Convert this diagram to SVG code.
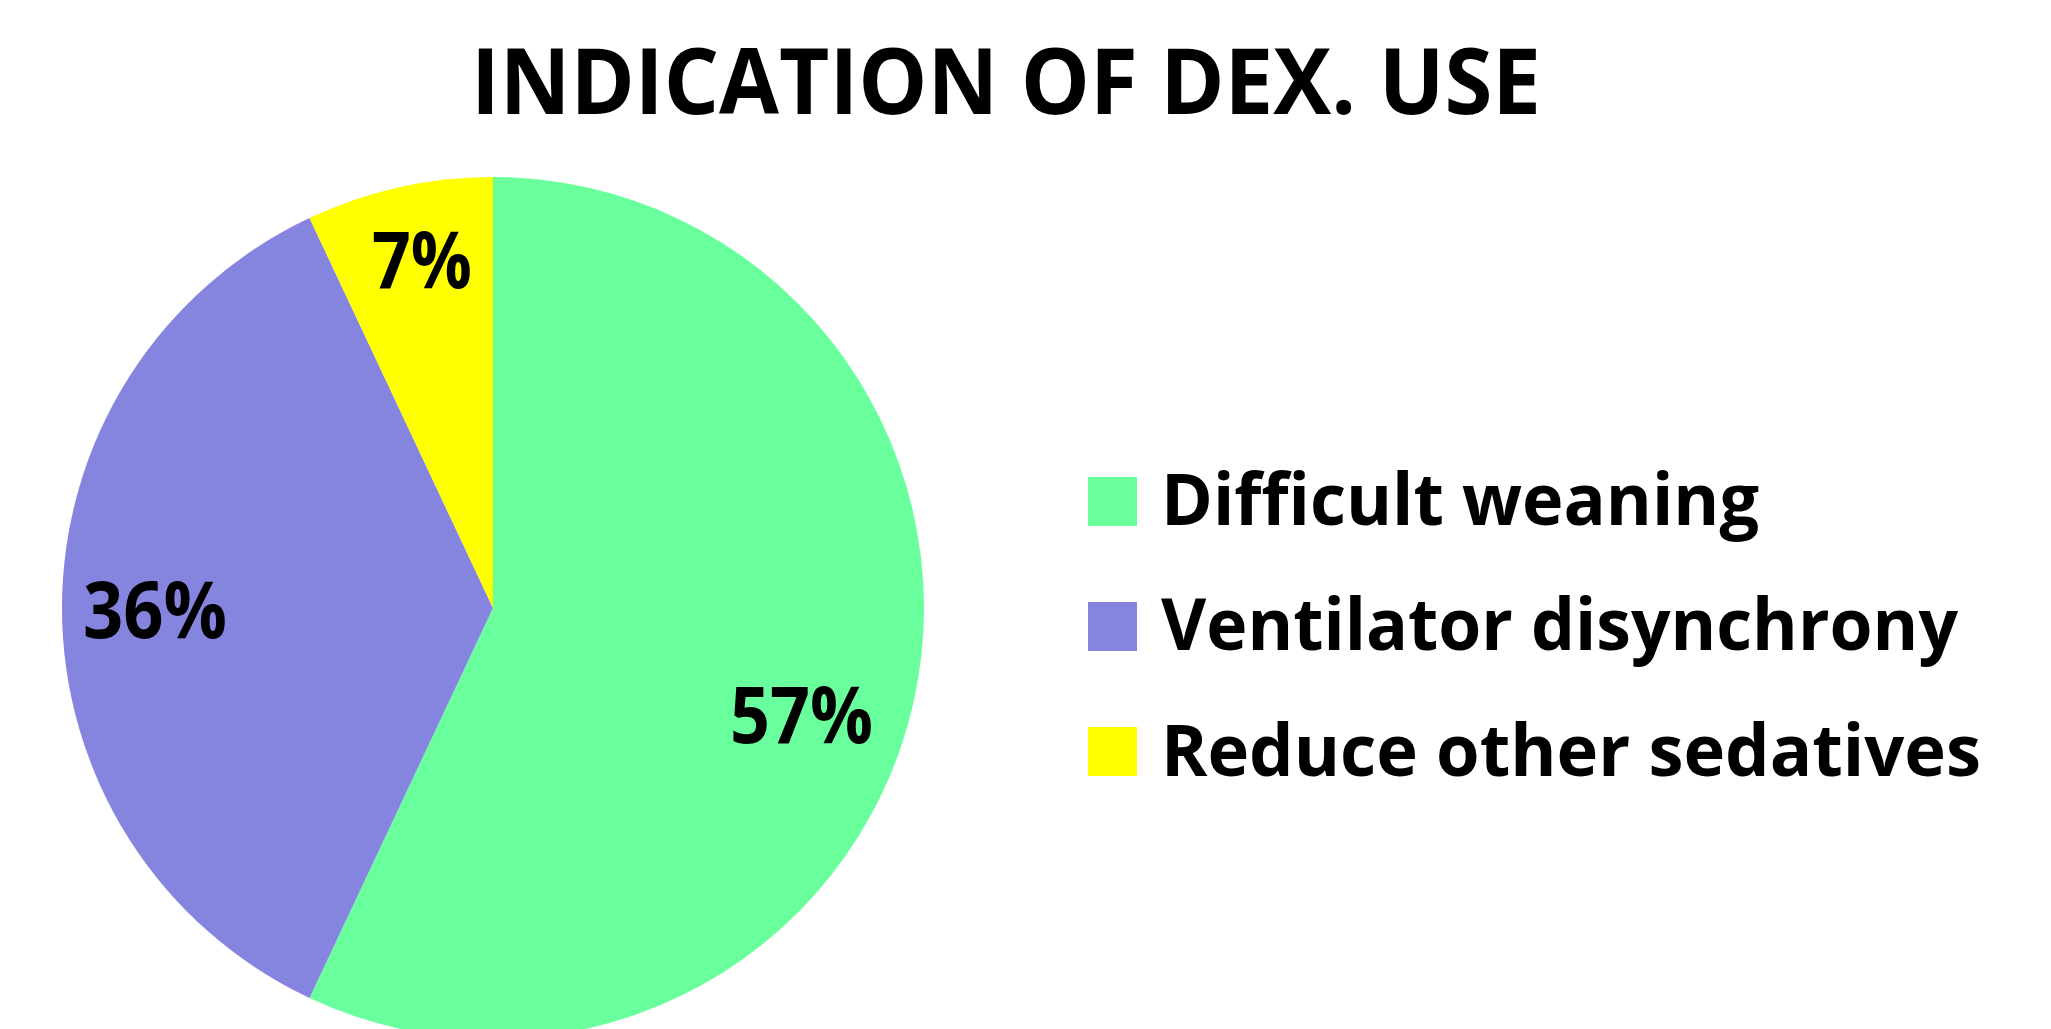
<svg xmlns="http://www.w3.org/2000/svg" width="2051" height="1029" viewBox="0 0 2051 1029">
  <style>
    text { font-family: "Open Sans", "Liberation Sans", sans-serif; font-weight: 700; fill: #000; }
    .title { font-size: 92px; }
    .pct { font-size: 78px; }
    .leg { font-size: 72px; }
    .green { fill: #68FF9C; }
    .purple { fill: #8585E0; }
    .yellow { fill: #FFFF00; }
  </style>
  <rect width="2051" height="1029" fill="#FFFFFF"/>

  <text id="title" class="title" x="471" y="114" textLength="1070" lengthAdjust="spacingAndGlyphs">INDICATION OF DEX. USE</text>

  <!-- pie: centre (493,608), radius 431, slices clockwise from 12 o'clock -->
  <g id="slice-difficult-weaning">
    <path class="green" d="M493,608 L493,177 A431,431 0 1 1 309.5,998 Z"/>
    <text class="pct" x="730" y="743" textLength="143" lengthAdjust="spacingAndGlyphs">57%</text>
  </g>
  <g id="slice-ventilator-disynchrony">
    <path class="purple" d="M493,608 L309.5,998 A431,431 0 0 1 309.5,218 Z"/>
    <text class="pct" x="83" y="638" textLength="144" lengthAdjust="spacingAndGlyphs">36%</text>
  </g>
  <g id="slice-reduce-sedatives">
    <path class="yellow" d="M493,608 L309.5,218 A431,431 0 0 1 493,177 Z"/>
    <text class="pct" x="372" y="288" textLength="100" lengthAdjust="spacingAndGlyphs">7%</text>
  </g>

  <!-- legend -->
  <g id="legend-difficult-weaning">
    <rect class="green" x="1088" y="477" width="49" height="49"/>
    <text class="leg" x="1161" y="525" textLength="598" lengthAdjust="spacingAndGlyphs">Difficult weaning</text>
  </g>
  <g id="legend-ventilator-disynchrony">
    <rect class="purple" x="1088" y="602" width="49" height="49"/>
    <text class="leg" x="1161" y="650" textLength="797" lengthAdjust="spacingAndGlyphs">Ventilator disynchrony</text>
  </g>
  <g id="legend-reduce-sedatives">
    <rect class="yellow" x="1088" y="727" width="49" height="49"/>
    <text class="leg" x="1161" y="776" textLength="820" lengthAdjust="spacingAndGlyphs">Reduce other sedatives</text>
  </g>
</svg>
